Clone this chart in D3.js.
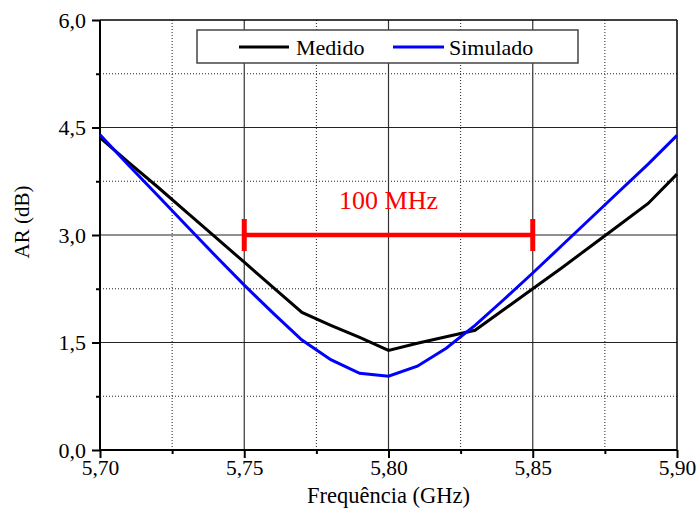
<!DOCTYPE html>
<html><head><meta charset="utf-8">
<script src="https://cdn.jsdelivr.net/npm/d3@7/dist/d3.min.js"></script>
<style>
html,body{margin:0;padding:0;background:#fff;}
</style></head>
<body><svg id="chart" width="699" height="510" font-family="Liberation Serif, DejaVu Serif, serif"></svg>
<script>
const freq = [5.70,5.71,5.72,5.73,5.74,5.75,5.76,5.77,5.78,5.79,5.80,5.81,5.82,5.83,5.84,5.85,5.86,5.87,5.88,5.89,5.90];
const medido = [4.36,4.01,3.67,3.32,2.97,2.62,2.27,1.92,1.74,1.57,1.39,1.49,1.58,1.67,1.96,2.25,2.54,2.84,3.14,3.44,3.85];
const simulado = [4.40,3.97,3.55,3.13,2.71,2.30,1.91,1.535,1.26,1.07,1.03,1.17,1.42,1.74,2.10,2.47,2.85,3.23,3.61,3.99,4.39];
const xTicks = [5.70,5.75,5.80,5.85,5.90];
const xMinor = [5.725,5.775,5.825,5.875];
const yTicks = [0,1.5,3.0,4.5,6.0];
const yMinor = [0.75,2.25,3.75,5.25];
const bandStart = 5.75, bandEnd = 5.85, bandLevel = 3.0, bandLabel = "100 MHz";
const seriesNames = ["Medido","Simulado"];
const seriesColors = ["#000000","#0000ff"];

const FONT = "Liberation Serif, DejaVu Serif, serif";
const svg = d3.select("#chart");
const m = {l:100, r:677, t:20, b:450};
const x = d3.scaleLinear().domain([5.70,5.90]).range([m.l,m.r]);
const y = d3.scaleLinear().domain([0,6]).range([m.b,m.t]);
const fmtX = d => d.toFixed(2).replace(".", ",");
const fmtY = d => d.toFixed(1).replace(".", ",");

const g = svg.append("g");
g.selectAll(".vmin").data(xMinor).join("line")
  .attr("x1",d=>x(d)).attr("x2",d=>x(d)).attr("y1",m.t).attr("y2",m.b)
  .attr("stroke","#222").attr("stroke-width",1).attr("stroke-dasharray","1,2");
g.selectAll(".hmin").data(yMinor).join("line")
  .attr("x1",m.l).attr("x2",m.r).attr("y1",d=>y(d)).attr("y2",d=>y(d))
  .attr("stroke","#222").attr("stroke-width",1).attr("stroke-dasharray","1,2");
g.selectAll(".vmaj").data(xTicks.slice(1,-1)).join("line")
  .attr("x1",d=>x(d)).attr("x2",d=>x(d)).attr("y1",m.t).attr("y2",m.b)
  .attr("stroke","#333").attr("stroke-width",1.2);
g.selectAll(".hmaj").data(yTicks.slice(1,-1)).join("line")
  .attr("x1",m.l).attr("x2",m.r).attr("y1",d=>y(d)).attr("y2",d=>y(d))
  .attr("stroke","#222").attr("stroke-width",1.2);

const xAxis = svg.append("g").attr("transform",`translate(0,${m.b})`)
  .call(d3.axisBottom(x).tickValues(xTicks).tickFormat(fmtX).tickSize(8).tickPadding(2));
const xAxisMinor = svg.append("g").attr("transform",`translate(0,${m.b})`)
  .call(d3.axisBottom(x).tickValues(xMinor).tickFormat("").tickSize(4));
const yAxis = svg.append("g").attr("transform",`translate(${m.l},0)`)
  .call(d3.axisLeft(y).tickValues(yTicks).tickFormat(fmtY).tickSize(8).tickPadding(6));
const yAxisMinor = svg.append("g").attr("transform",`translate(${m.l},0)`)
  .call(d3.axisLeft(y).tickValues(yMinor).tickFormat("").tickSize(4));
[xAxis,xAxisMinor,yAxis,yAxisMinor].forEach(a=>{
  a.attr("font-family",FONT).attr("font-size",22);
  a.select(".domain").remove();
  a.selectAll(".tick line").attr("stroke","#000").attr("stroke-width",2);
  a.selectAll("text").attr("fill","#000");
});
xAxis.attr("font-size",21.5);

svg.append("line").attr("x1",m.l).attr("x2",m.r).attr("y1",m.b).attr("y2",m.b).attr("stroke","#000").attr("stroke-width",2);
svg.append("line").attr("x1",m.l).attr("x2",m.l).attr("y1",m.t).attr("y2",m.b).attr("stroke","#000").attr("stroke-width",2);
svg.append("line").attr("x1",m.l).attr("x2",m.r).attr("y1",m.t).attr("y2",m.t).attr("stroke","#000").attr("stroke-width",1.5);
svg.append("line").attr("x1",m.r).attr("x2",m.r).attr("y1",m.t).attr("y2",m.b).attr("stroke","#000").attr("stroke-width",1.5);

const line = d3.line().x((d,i)=>x(freq[i])).y(d=>y(d));
[medido,simulado].forEach((s,k)=>{
  svg.append("path").datum(s).attr("d",line).attr("fill","none")
    .attr("stroke",seriesColors[k]).attr("stroke-width",3);
});

const red = "#ff0000";
svg.append("line").attr("x1",x(bandStart)).attr("x2",x(bandEnd)).attr("y1",y(bandLevel)).attr("y2",y(bandLevel))
  .attr("stroke",red).attr("stroke-width",4.5);
[bandStart,bandEnd].forEach(v=>{
  svg.append("line").attr("x1",x(v)).attr("x2",x(v)).attr("y1",y(bandLevel)-16).attr("y2",y(bandLevel)+16)
    .attr("stroke",red).attr("stroke-width",5);
});
svg.append("text").attr("x",x((bandStart+bandEnd)/2)).attr("y",y(bandLevel)-26)
  .attr("text-anchor","middle").attr("fill",red).attr("font-size",26).text(bandLabel);

const lg = svg.append("g");
lg.append("rect").attr("x",197).attr("y",30).attr("width",381).attr("height",33)
  .attr("fill","#fff").attr("stroke","#444").attr("stroke-width",1.5);
const legX = [[239,289,296],[393,444,449]];
seriesNames.forEach((n,k)=>{
  lg.append("line").attr("x1",legX[k][0]).attr("x2",legX[k][1]).attr("y1",47).attr("y2",47)
    .attr("stroke",seriesColors[k]).attr("stroke-width",3);
  lg.append("text").attr("x",legX[k][2]).attr("y",55).attr("fill","#000").attr("font-size",22).text(n);
});

svg.append("text").attr("x",(m.l+m.r)/2).attr("y",503).attr("text-anchor","middle")
  .attr("font-size",22.5).attr("fill","#000").text("Frequência (GHz)");
svg.append("text").attr("transform","translate(29,222) rotate(-90)").attr("text-anchor","middle")
  .attr("font-size",21).attr("fill","#000").text("AR (dB)");
</script></body></html>
